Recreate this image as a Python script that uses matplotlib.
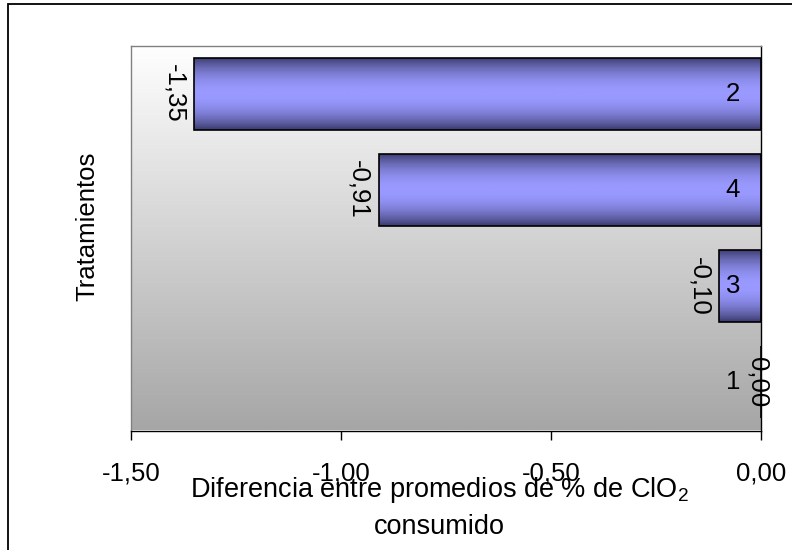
import matplotlib.pyplot as plt
import numpy as np
from matplotlib.colors import LinearSegmentedColormap
from matplotlib.patches import Rectangle

plt.rcParams['font.family'] = ['Liberation Sans', 'DejaVu Sans']
plt.rcParams['mathtext.default'] = 'regular'

# treatments from bottom to top, and their mean differences
tratamientos = ['1', '3', '4', '2']
diferencias = [0.00, -0.10, -0.91, -1.35]
xticks = [-1.50, -1.00, -0.50, 0.00]


def coma(v):
    return f'{v:.2f}'.replace('.', ',')


fig = plt.figure(figsize=(7.92, 5.5), dpi=100)
ax = fig.add_axes([131 / 792, 1 - 430.5 / 550, 630 / 792, 385 / 550])

# plot area background: white at the top fading to gray
bg = np.linspace(0, 1, 256).reshape(-1, 1)
bg_cmap = LinearSegmentedColormap.from_list('fondo', ['#a6a6a6', '#ffffff'])
ax.imshow(bg, extent=[-1.5, 0, -0.5, 3.5], origin='lower', aspect='auto',
          cmap=bg_cmap, zorder=0)

# bars: outline only, the fill is a shaded gradient clipped to each bar
bars = ax.barh(range(len(diferencias)), diferencias, height=0.75,
               facecolor='none', edgecolor='black', linewidth=1.2, zorder=3)
t = np.linspace(-1, 1, 200)
shade = (1 - np.abs(t) ** 2).reshape(-1, 1)
bar_cmap = LinearSegmentedColormap.from_list('barra', ['#3a3a6c', '#9999ff'])
for bar in bars:
    x0 = bar.get_x()
    x1 = x0 + bar.get_width()
    if x0 == x1:
        continue
    y0 = bar.get_y()
    y1 = y0 + bar.get_height()
    im = ax.imshow(shade, extent=[min(x0, x1), max(x0, x1), y0, y1],
                   aspect='auto', cmap=bar_cmap, zorder=2)
    im.set_clip_path(bar)

ax.set_xlim(-1.5, 0)
ax.set_ylim(-0.5, 3.5)

# value labels at the bar ends and treatment names inside the bars
for i, v in enumerate(diferencias):
    ox = -20 if v < 0 else -4
    ax.annotate(coma(v), xy=(v, i), xytext=(ox, 0), textcoords='offset pixels',
                rotation=-90, ha='center', va='center', fontsize=18.5, zorder=4)
    ax.annotate(tratamientos[i], xy=(0, i), xytext=(-21, 0),
                textcoords='offset pixels', ha='right', va='center',
                fontsize=18.5, zorder=4)

ax.set_xticks(xticks)
ax.set_xticklabels([coma(v) for v in xticks])
ax.set_yticks([])
ax.tick_params(axis='x', direction='out', length=6.5, width=1, pad=16,
               labelsize=18.5)

for side in ['left', 'top']:
    ax.spines[side].set_color('#808080')
for side in ['right', 'bottom']:
    ax.spines[side].set_color('black')
for s in ax.spines.values():
    s.set_linewidth(1)
    s.set_zorder(5)

ax.set_ylabel('Tratamientos', fontsize=18.5, va='center')
ax.yaxis.set_label_coords((87 - 131) / 630, (430.5 - 226) / 385)
ax.set_xlabel('Diferencia entre promedios de % de ClO$_2$\nconsumido',
              fontsize=19.5, linespacing=1.45)
ax.xaxis.set_label_coords(0.49, (430.5 - 475) / 385)

# chart frame
fig.add_artist(Rectangle((8 / 792, -0.1), 1.2, 1.1 - 3.5 / 550,
                         transform=fig.transFigure, fill=False,
                         edgecolor='black', linewidth=1.3))

fig.savefig('out.png', dpi=100)
